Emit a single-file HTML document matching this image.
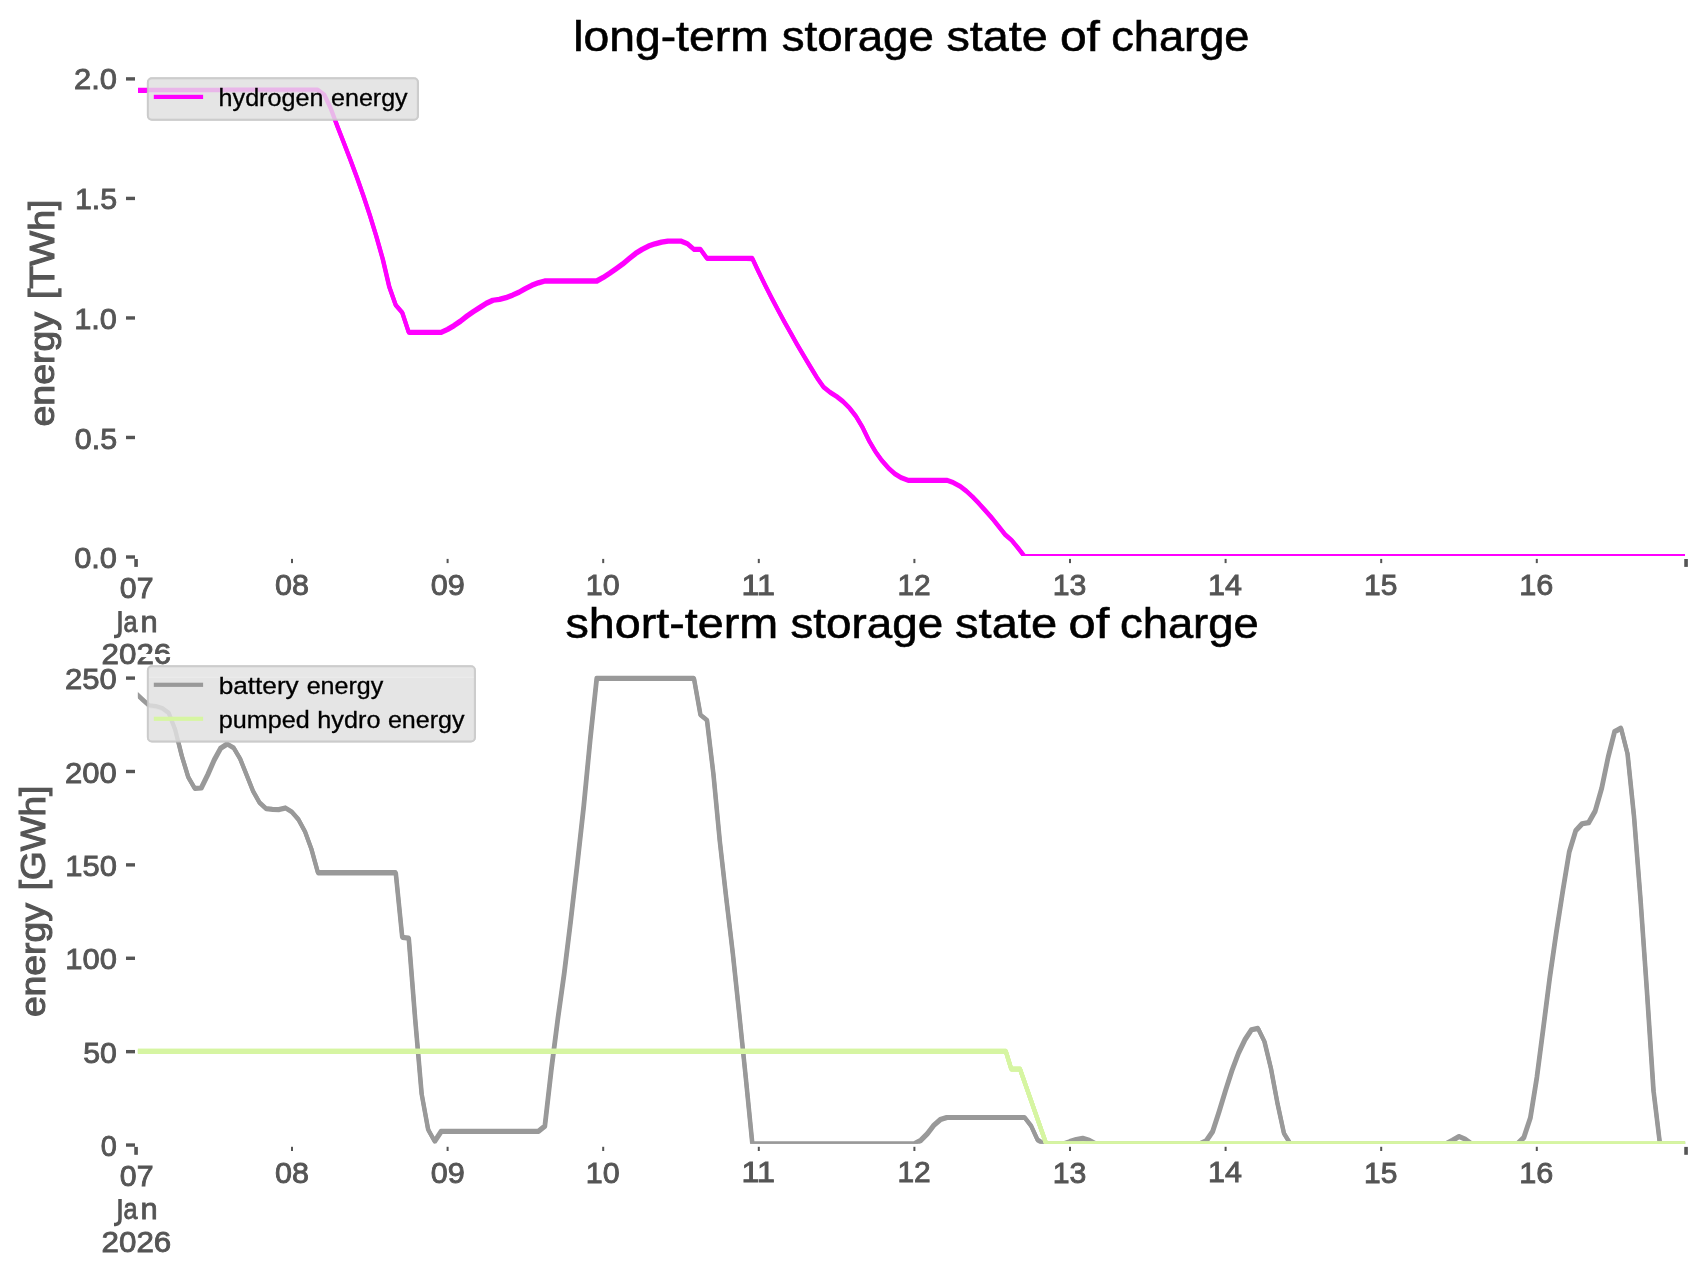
<!DOCTYPE html>
<html><head><meta charset="utf-8"><title>storage state of charge</title>
<style>html,body{margin:0;padding:0;background:#fff;overflow:hidden;}svg{display:block;will-change:transform;}text{font-family:"Liberation Sans",sans-serif;}</style></head><body>
<svg width="1706" height="1277" viewBox="0 0 1706 1277">
<rect width="1706" height="1277" fill="#ffffff"/>
<defs><clipPath id="c1"><rect x="137.9" y="60" width="1547.2" height="496.05"/></clipPath>
<clipPath id="c2"><rect x="137.9" y="650" width="1547.2" height="493.80"/></clipPath></defs>
<rect x="126" y="77.20" width="9" height="3.4" fill="#555555"/>
<rect x="126" y="196.73" width="9" height="3.4" fill="#555555"/>
<rect x="126" y="316.25" width="9" height="3.4" fill="#555555"/>
<rect x="126" y="435.78" width="9" height="3.4" fill="#555555"/>
<rect x="126" y="555.30" width="9" height="3.4" fill="#555555"/>
<rect x="126" y="676.40" width="9" height="3.4" fill="#555555"/>
<rect x="126" y="769.79" width="9" height="3.4" fill="#555555"/>
<rect x="126" y="863.18" width="9" height="3.4" fill="#555555"/>
<rect x="126" y="956.57" width="9" height="3.4" fill="#555555"/>
<rect x="126" y="1049.96" width="9" height="3.4" fill="#555555"/>
<rect x="126" y="1143.35" width="9" height="3.4" fill="#555555"/>
<rect x="134.25" y="559.00" width="3.6" height="7.9" fill="#555555"/>
<rect x="1684.25" y="559.00" width="3.6" height="7.9" fill="#555555"/>
<rect x="291.00" y="558.90" width="2.0" height="4.2" fill="#555555"/>
<rect x="446.60" y="558.90" width="2.0" height="4.2" fill="#555555"/>
<rect x="602.20" y="558.90" width="2.0" height="4.2" fill="#555555"/>
<rect x="757.80" y="558.90" width="2.0" height="4.2" fill="#555555"/>
<rect x="913.40" y="558.90" width="2.0" height="4.2" fill="#555555"/>
<rect x="1069.00" y="558.90" width="2.0" height="4.2" fill="#555555"/>
<rect x="1224.60" y="558.90" width="2.0" height="4.2" fill="#555555"/>
<rect x="1380.20" y="558.90" width="2.0" height="4.2" fill="#555555"/>
<rect x="1535.80" y="558.90" width="2.0" height="4.2" fill="#555555"/>
<rect x="134.25" y="1146.90" width="3.6" height="7.9" fill="#555555"/>
<rect x="1684.25" y="1146.90" width="3.6" height="7.9" fill="#555555"/>
<rect x="291.00" y="1146.80" width="2.0" height="4.2" fill="#555555"/>
<rect x="446.60" y="1146.80" width="2.0" height="4.2" fill="#555555"/>
<rect x="602.20" y="1146.80" width="2.0" height="4.2" fill="#555555"/>
<rect x="757.80" y="1146.80" width="2.0" height="4.2" fill="#555555"/>
<rect x="913.40" y="1146.80" width="2.0" height="4.2" fill="#555555"/>
<rect x="1069.00" y="1146.80" width="2.0" height="4.2" fill="#555555"/>
<rect x="1224.60" y="1146.80" width="2.0" height="4.2" fill="#555555"/>
<rect x="1380.20" y="1146.80" width="2.0" height="4.2" fill="#555555"/>
<rect x="1535.80" y="1146.80" width="2.0" height="4.2" fill="#555555"/>
<text transform="translate(74.05,89.16) scale(1.1121,1.0446)" font-size="27.78" fill="#555555" stroke="#555555" stroke-width="0.83">2.0</text>
<text transform="translate(74.88,209.49) scale(1.0936,1.0387)" font-size="27.78" fill="#555555" stroke="#555555" stroke-width="0.84">1.5</text>
<text transform="translate(74.23,329.01) scale(1.1074,1.0446)" font-size="27.78" fill="#555555" stroke="#555555" stroke-width="0.84">1.0</text>
<text transform="translate(74.85,448.54) scale(1.0945,1.0446)" font-size="27.78" fill="#555555" stroke="#555555" stroke-width="0.84">0.5</text>
<text transform="translate(74.21,568.06) scale(1.1079,1.0446)" font-size="27.78" fill="#555555" stroke="#555555" stroke-width="0.84">0.0</text>
<text transform="translate(65.06,689.16) scale(1.1180,1.0446)" font-size="27.78" fill="#555555" stroke="#555555" stroke-width="0.83">250</text>
<text transform="translate(65.06,782.55) scale(1.1180,1.0446)" font-size="27.78" fill="#555555" stroke="#555555" stroke-width="0.83">200</text>
<text transform="translate(65.23,875.94) scale(1.1142,1.0446)" font-size="27.78" fill="#555555" stroke="#555555" stroke-width="0.83">150</text>
<text transform="translate(65.23,969.33) scale(1.1142,1.0446)" font-size="27.78" fill="#555555" stroke="#555555" stroke-width="0.83">100</text>
<text transform="translate(83.26,1062.72) scale(1.0891,1.0446)" font-size="27.78" fill="#555555" stroke="#555555" stroke-width="0.84">50</text>
<text transform="translate(100.71,1156.11) scale(1.0415,1.0446)" font-size="27.78" fill="#555555" stroke="#555555" stroke-width="0.86">0</text>
<text transform="translate(275.10,594.66) scale(1.0983,1.0446)" font-size="27.78" fill="#555555" stroke="#555555" stroke-width="0.84">08</text>
<text transform="translate(430.69,594.66) scale(1.1031,1.0446)" font-size="27.78" fill="#555555" stroke="#555555" stroke-width="0.84">09</text>
<text transform="translate(585.70,594.66) scale(1.0968,1.0446)" font-size="27.78" fill="#555555" stroke="#555555" stroke-width="0.84">10</text>
<text transform="translate(741.53,594.55) scale(1.1645,1.0327)" font-size="27.78" fill="#555555" stroke="#555555" stroke-width="0.82">11</text>
<text transform="translate(897.45,594.55) scale(1.0752,1.0387)" font-size="27.78" fill="#555555" stroke="#555555" stroke-width="0.85">12</text>
<text transform="translate(1052.71,594.66) scale(1.0882,1.0446)" font-size="27.78" fill="#555555" stroke="#555555" stroke-width="0.84">13</text>
<text transform="translate(1207.98,594.55) scale(1.0960,1.0327)" font-size="27.78" fill="#555555" stroke="#555555" stroke-width="0.85">14</text>
<text transform="translate(1364.05,594.67) scale(1.0791,1.0387)" font-size="27.78" fill="#555555" stroke="#555555" stroke-width="0.85">15</text>
<text transform="translate(1519.29,594.66) scale(1.1018,1.0446)" font-size="27.78" fill="#555555" stroke="#555555" stroke-width="0.84">16</text>
<text transform="translate(119.86,598.46) scale(1.0903,1.0446)" font-size="27.78" fill="#555555" stroke="#555555" stroke-width="0.84">07</text>
<path d="M120.0,611.10 V631.20 Q120.0,636.50 115.6,636.50 H114.0" fill="none" stroke="#555555" stroke-width="3.5"/>
<text transform="translate(123.38,631.54) scale(0.9034,1.0369)" font-size="27.78" fill="#555555" stroke="#555555" stroke-width="0.82">a</text>
<text transform="translate(140.41,631.50) scale(1.1137,1.0342)" font-size="27.78" fill="#555555" stroke="#555555" stroke-width="0.74">n</text>
<text transform="translate(101.57,663.66) scale(1.1277,1.0446)" font-size="27.78" fill="#555555" stroke="#555555" stroke-width="0.83">2026</text>
<text transform="translate(275.10,1182.56) scale(1.0983,1.0446)" font-size="27.78" fill="#555555" stroke="#555555" stroke-width="0.84">08</text>
<text transform="translate(430.69,1182.56) scale(1.1031,1.0446)" font-size="27.78" fill="#555555" stroke="#555555" stroke-width="0.84">09</text>
<text transform="translate(585.70,1182.56) scale(1.0968,1.0446)" font-size="27.78" fill="#555555" stroke="#555555" stroke-width="0.84">10</text>
<text transform="translate(741.53,1182.45) scale(1.1645,1.0327)" font-size="27.78" fill="#555555" stroke="#555555" stroke-width="0.82">11</text>
<text transform="translate(897.45,1182.45) scale(1.0752,1.0387)" font-size="27.78" fill="#555555" stroke="#555555" stroke-width="0.85">12</text>
<text transform="translate(1052.71,1182.56) scale(1.0882,1.0446)" font-size="27.78" fill="#555555" stroke="#555555" stroke-width="0.84">13</text>
<text transform="translate(1207.98,1182.45) scale(1.0960,1.0327)" font-size="27.78" fill="#555555" stroke="#555555" stroke-width="0.85">14</text>
<text transform="translate(1364.05,1182.57) scale(1.0791,1.0387)" font-size="27.78" fill="#555555" stroke="#555555" stroke-width="0.85">15</text>
<text transform="translate(1519.29,1182.56) scale(1.1018,1.0446)" font-size="27.78" fill="#555555" stroke="#555555" stroke-width="0.84">16</text>
<text transform="translate(119.86,1186.36) scale(1.0903,1.0446)" font-size="27.78" fill="#555555" stroke="#555555" stroke-width="0.84">07</text>
<path d="M120.0,1199.00 V1219.10 Q120.0,1224.40 115.6,1224.40 H114.0" fill="none" stroke="#555555" stroke-width="3.5"/>
<text transform="translate(123.38,1219.44) scale(0.9034,1.0369)" font-size="27.78" fill="#555555" stroke="#555555" stroke-width="0.82">a</text>
<text transform="translate(140.41,1219.40) scale(1.1137,1.0342)" font-size="27.78" fill="#555555" stroke="#555555" stroke-width="0.74">n</text>
<text transform="translate(101.57,1251.56) scale(1.1277,1.0446)" font-size="27.78" fill="#555555" stroke="#555555" stroke-width="0.83">2026</text>
<rect x="137.7" y="654.0" width="1548.5" height="3.1" fill="#ffffff"/>
<text transform="translate(53.68,426.49) rotate(-90) scale(1.1231,1.0282)" font-size="33.33" fill="#555555" stroke="#555555" stroke-width="1.02">energy</text>
<text transform="translate(53.68,299.04) rotate(-90) scale(1.1189,1.0282)" font-size="33.33" fill="#555555" stroke="#555555" stroke-width="1.02">[TWh]</text>
<text transform="translate(44.78,1017.09) rotate(-90) scale(1.1180,1.0282)" font-size="33.33" fill="#555555" stroke="#555555" stroke-width="1.03">energy</text>
<text transform="translate(44.78,890.19) rotate(-90) scale(1.1070,1.0282)" font-size="33.33" fill="#555555" stroke="#555555" stroke-width="1.03">[GWh]</text>
<text transform="translate(573.14,50.59) scale(1.1580,1.0403)" font-size="40.00" fill="#000" stroke="#000" stroke-width="0.55">long-term</text>
<text transform="translate(781.74,50.59) scale(1.1398,1.0403)" font-size="40.00" fill="#000" stroke="#000" stroke-width="0.55">storage</text>
<text transform="translate(946.38,50.59) scale(1.1699,1.0403)" font-size="40.00" fill="#000" stroke="#000" stroke-width="0.54">state</text>
<text transform="translate(1059.91,50.59) scale(1.2008,1.0403)" font-size="40.00" fill="#000" stroke="#000" stroke-width="0.54">of</text>
<text transform="translate(1111.30,50.59) scale(1.1293,1.0403)" font-size="40.00" fill="#000" stroke="#000" stroke-width="0.55">charge</text>
<text transform="translate(565.46,638.39) scale(1.1672,1.0403)" font-size="40.00" fill="#000" stroke="#000" stroke-width="0.54">short-term</text>
<text transform="translate(790.43,638.39) scale(1.1444,1.0403)" font-size="40.00" fill="#000" stroke="#000" stroke-width="0.55">storage</text>
<text transform="translate(955.06,638.39) scale(1.1770,1.0403)" font-size="40.00" fill="#000" stroke="#000" stroke-width="0.54">state</text>
<text transform="translate(1068.57,638.39) scale(1.2197,1.0403)" font-size="40.00" fill="#000" stroke="#000" stroke-width="0.53">of</text>
<text transform="translate(1119.98,638.39) scale(1.1344,1.0403)" font-size="40.00" fill="#000" stroke="#000" stroke-width="0.55">charge</text>
<g fill="none" stroke-width="4.17" stroke-linejoin="round" stroke-linecap="butt">
<polyline clip-path="url(#c1)" stroke="#ff00ff" points="136.2,91.0 136.7,90.9 143.1,90.9 149.6,90.9 156.1,90.9 162.6,90.9 169.1,90.9 175.6,90.9 182.0,90.9 188.5,90.9 195.0,90.9 201.5,90.9 208.0,90.9 214.4,90.9 220.9,90.9 227.4,90.8 233.9,90.8 240.4,90.8 246.9,90.8 253.4,90.8 259.8,90.8 266.3,90.8 272.8,90.8 279.3,90.8 285.8,90.8 292.2,90.8 298.7,90.8 305.2,90.8 311.7,90.8 318.2,90.8 324.7,95.7 331.1,109.1 337.6,126.8 344.1,143.4 350.6,160.3 357.1,177.8 363.6,196.2 370.1,215.8 376.5,236.6 383.0,259.6 389.5,287.3 396.0,305.7 402.5,313.2 409.0,332.9 415.4,332.9 421.9,332.9 428.4,332.9 434.9,332.9 441.4,332.9 447.9,329.9 454.3,326.1 460.8,321.7 467.3,316.6 473.8,312.1 480.3,307.9 486.8,303.8 493.2,300.8 499.7,299.9 506.2,298.2 512.7,295.7 519.2,292.8 525.6,289.2 532.1,285.9 538.6,283.4 545.1,281.6 551.6,281.6 558.1,281.6 564.5,281.6 571.0,281.6 577.5,281.6 584.0,281.6 590.5,281.6 597.0,281.6 603.5,278.0 609.9,273.8 616.4,269.3 622.9,264.6 629.4,259.2 635.9,254.0 642.4,250.0 648.8,246.6 655.3,244.4 661.8,242.7 668.3,241.7 674.8,241.7 681.2,241.7 687.7,244.3 694.2,249.9 700.7,249.9 707.2,258.9 713.7,258.9 720.1,258.9 726.6,258.9 733.1,259.0 739.6,259.0 746.1,259.0 752.6,259.1 759.0,272.7 765.5,285.9 772.0,298.7 778.5,311.0 785.0,323.0 791.5,334.6 797.9,346.0 804.4,357.0 810.9,367.8 817.4,378.5 823.9,387.7 830.4,392.9 836.9,397.0 843.3,402.1 849.8,408.6 856.3,417.0 862.8,427.9 869.3,441.3 875.8,452.2 882.2,461.2 888.7,468.6 895.2,474.5 901.7,478.4 908.2,480.9 914.6,480.9 921.1,480.9 927.6,480.9 934.1,480.9 940.6,480.9 947.1,480.9 953.5,483.1 960.0,486.6 966.5,491.5 973.0,497.6 979.5,504.4 986.0,511.6 992.4,518.8 998.9,527.0 1005.4,535.1 1011.9,540.8 1018.4,548.7 1024.9,557.0 1031.4,557.0 1037.8,557.0 1044.3,557.0 1050.8,557.0 1057.3,557.0 1063.8,557.0 1070.2,557.0 1076.7,557.0 1083.2,557.0 1089.7,557.0 1096.2,557.0 1102.7,557.0 1109.2,557.0 1115.6,557.0 1122.1,557.0 1128.6,557.0 1135.1,557.0 1141.6,557.0 1148.0,557.0 1154.5,557.0 1161.0,557.0 1167.5,557.0 1174.0,557.0 1180.5,557.0 1187.0,557.0 1193.4,557.0 1199.9,557.0 1206.4,557.0 1212.9,557.0 1219.4,557.0 1225.9,557.0 1232.3,557.0 1238.8,557.0 1245.3,557.0 1251.8,557.0 1258.3,557.0 1264.8,557.0 1271.2,557.0 1277.7,557.0 1284.2,557.0 1290.7,557.0 1297.2,557.0 1303.7,557.0 1310.1,557.0 1316.6,557.0 1323.1,557.0 1329.6,557.0 1336.1,557.0 1342.6,557.0 1349.0,557.0 1355.5,557.0 1362.0,557.0 1368.5,557.0 1375.0,557.0 1381.5,557.0 1387.9,557.0 1394.4,557.0 1400.9,557.0 1407.4,557.0 1413.9,557.0 1420.4,557.0 1426.8,557.0 1433.3,557.0 1439.8,557.0 1446.3,557.0 1452.8,557.0 1459.2,557.0 1465.7,557.0 1472.2,557.0 1478.7,557.0 1485.2,557.0 1491.7,557.0 1498.2,557.0 1504.6,557.0 1511.1,557.0 1517.6,557.0 1524.1,557.0 1530.6,557.0 1537.1,557.0 1543.5,557.0 1550.0,557.0 1556.5,557.0 1563.0,557.0 1569.5,557.0 1576.0,557.0 1582.4,557.0 1588.9,557.0 1595.4,557.0 1601.9,557.0 1608.4,557.0 1614.9,557.0 1621.3,557.0 1627.8,557.0 1634.3,557.0 1640.8,557.0 1647.3,557.0 1653.8,557.0 1660.2,557.0 1666.7,557.0 1673.2,557.0 1679.7,557.0 1686.2,557.0"/>
<polyline clip-path="url(#c2)" stroke="#999999" points="136.2,694.0 136.7,694.4 143.1,700.4 149.6,706.3 156.1,707.2 162.6,709.1 169.1,713.8 175.6,730.6 182.0,756.3 188.5,777.7 195.0,788.9 201.5,788.5 208.0,775.3 214.4,760.7 220.9,748.8 227.4,744.5 233.9,748.4 240.4,759.4 246.9,775.6 253.4,791.9 259.8,803.2 266.3,809.1 272.8,810.0 279.3,810.1 285.8,808.4 292.2,812.6 298.7,820.0 305.2,832.0 311.7,849.7 318.2,873.3 324.7,873.3 331.1,873.3 337.6,873.3 344.1,873.3 350.6,873.3 357.1,873.3 363.6,873.3 370.1,873.3 376.5,873.3 383.0,873.3 389.5,873.3 396.0,873.3 402.5,937.9 409.0,938.6 415.4,1019.4 421.9,1094.5 428.4,1130.2 434.9,1141.8 441.4,1132.0 447.9,1132.0 454.3,1132.0 460.8,1132.0 467.3,1132.0 473.8,1132.0 480.3,1132.0 486.8,1132.0 493.2,1132.0 499.7,1132.0 506.2,1132.0 512.7,1132.0 519.2,1132.0 525.6,1132.0 532.1,1132.0 538.6,1132.0 545.1,1126.6 551.6,1069.9 558.1,1019.3 564.5,973.6 571.0,920.9 577.5,865.0 584.0,806.7 590.5,739.7 597.0,678.9 603.5,678.9 609.9,678.9 616.4,678.9 622.9,678.9 629.4,678.9 635.9,678.9 642.4,678.9 648.8,678.9 655.3,678.9 661.8,678.9 668.3,678.9 674.8,678.9 681.2,678.9 687.7,678.9 694.2,678.9 700.7,715.4 707.2,720.6 713.7,774.9 720.1,842.2 726.6,899.5 733.1,954.3 739.6,1015.5 746.1,1079.0 752.6,1144.5 759.0,1144.5 765.5,1144.5 772.0,1144.5 778.5,1144.5 785.0,1144.5 791.5,1144.5 797.9,1144.5 804.4,1144.5 810.9,1144.5 817.4,1144.5 823.9,1144.5 830.4,1144.5 836.9,1144.5 843.3,1144.5 849.8,1144.5 856.3,1144.5 862.8,1144.5 869.3,1144.5 875.8,1144.5 882.2,1144.5 888.7,1144.5 895.2,1144.5 901.7,1144.5 908.2,1144.5 914.6,1144.5 921.1,1140.9 927.6,1134.3 934.1,1125.8 940.6,1120.1 947.1,1118.0 953.5,1118.0 960.0,1118.0 966.5,1118.0 973.0,1118.0 979.5,1118.0 986.0,1118.0 992.4,1118.0 998.9,1118.0 1005.4,1118.0 1011.9,1118.0 1018.4,1118.0 1024.9,1118.0 1031.4,1126.5 1037.8,1140.4 1044.3,1144.5 1050.8,1144.5 1057.3,1144.5 1063.8,1144.5 1070.2,1142.2 1076.7,1140.1 1083.2,1138.9 1089.7,1140.8 1096.2,1144.5 1102.7,1144.5 1109.2,1144.5 1115.6,1144.5 1122.1,1144.5 1128.6,1144.5 1135.1,1144.5 1141.6,1144.5 1148.0,1144.5 1154.5,1144.5 1161.0,1144.5 1167.5,1144.5 1174.0,1144.5 1180.5,1144.5 1187.0,1144.5 1193.4,1144.5 1199.9,1144.5 1206.4,1141.6 1212.9,1132.0 1219.4,1112.0 1225.9,1090.7 1232.3,1070.8 1238.8,1053.5 1245.3,1040.1 1251.8,1030.2 1258.3,1029.0 1264.8,1042.2 1271.2,1069.0 1277.7,1103.8 1284.2,1133.9 1290.7,1144.5 1297.2,1144.5 1303.7,1144.5 1310.1,1144.5 1316.6,1144.5 1323.1,1144.5 1329.6,1144.5 1336.1,1144.5 1342.6,1144.5 1349.0,1144.5 1355.5,1144.5 1362.0,1144.5 1368.5,1144.5 1375.0,1144.5 1381.5,1144.5 1387.9,1144.5 1394.4,1144.5 1400.9,1144.5 1407.4,1144.5 1413.9,1144.5 1420.4,1144.5 1426.8,1144.5 1433.3,1144.5 1439.8,1144.5 1446.3,1144.5 1452.8,1140.9 1459.2,1137.0 1465.7,1139.8 1472.2,1144.5 1478.7,1144.5 1485.2,1144.5 1491.7,1144.5 1498.2,1144.5 1504.6,1144.5 1511.1,1144.5 1517.6,1144.5 1524.1,1138.0 1530.6,1118.4 1537.1,1078.1 1543.5,1029.1 1550.0,978.3 1556.5,933.4 1563.0,891.8 1569.5,852.5 1576.0,831.2 1582.4,824.3 1588.9,823.1 1595.4,811.6 1601.9,789.0 1608.4,757.7 1614.9,732.1 1621.3,728.8 1627.8,754.4 1634.3,817.3 1640.8,900.4 1647.3,993.5 1653.8,1091.2 1660.2,1144.5 1666.7,1144.5 1673.2,1144.5 1679.7,1144.5 1686.2,1144.5"/>
<polyline clip-path="url(#c2)" stroke="#d6f5a2" points="136.2,1052.0 1006.1,1052.0 1011.5,1069.6 1020.2,1069.6 1046.5,1144.5 1686.2,1144.5"/>
</g>
<rect x="147.9" y="78.3" width="270.0" height="41.5" rx="4" ry="4" fill="#e3e3e3" fill-opacity="0.8" stroke="#c8c8c8" stroke-opacity="0.8" stroke-width="2.0"/>
<rect x="147.9" y="666.3" width="327.0" height="75.2" rx="4" ry="4" fill="#e3e3e3" fill-opacity="0.8" stroke="#c8c8c8" stroke-opacity="0.8" stroke-width="2.0"/>
<g fill="none" stroke-width="4.17" stroke-linejoin="round" stroke-linecap="butt">
<polyline clip-path="url(#c1)" stroke="#ff00ff" points="135.8,89.9 136.2,89.8 142.6,89.8 149.1,89.8 155.6,89.8 162.1,89.8 168.6,89.8 175.1,89.8 181.5,89.8 188.0,89.8 194.5,89.8 201.0,89.8 207.5,89.8 213.9,89.8 220.4,89.8 226.9,89.7 233.4,89.7 239.9,89.7 246.4,89.7 252.9,89.7 259.3,89.7 265.8,89.7 272.3,89.7 278.8,89.7 285.3,89.7 291.8,89.7 298.2,89.7 304.7,89.7 311.2,89.7 317.7,89.7 324.2,94.6 330.6,108.0 337.1,125.7 343.6,142.3 350.1,159.2 356.6,176.7 363.1,195.1 369.6,214.7 376.0,235.5 382.5,258.5 389.0,286.2 395.5,304.6 402.0,312.1 408.5,331.8 414.9,331.8 421.4,331.8 427.9,331.8 434.4,331.8 440.9,331.8 447.4,328.8 453.8,325.0 460.3,320.6 466.8,315.5 473.3,311.0 479.8,306.8 486.2,302.7 492.7,299.7 499.2,298.8 505.7,297.1 512.2,294.6 518.7,291.7 525.1,288.1 531.6,284.8 538.1,282.3 544.6,280.4 551.1,280.4 557.6,280.4 564.0,280.4 570.5,280.4 577.0,280.4 583.5,280.4 590.0,280.4 596.5,280.4 603.0,276.9 609.4,272.7 615.9,268.2 622.4,263.5 628.9,258.1 635.4,252.9 641.9,248.9 648.3,245.5 654.8,243.3 661.3,241.6 667.8,240.5 674.3,240.5 680.8,240.5 687.2,243.2 693.7,248.8 700.2,248.8 706.7,257.8 713.2,257.8 719.6,257.8 726.1,257.8 732.6,257.9 739.1,257.9 745.6,257.9 752.1,257.9 758.5,271.6 765.0,284.8 771.5,297.6 778.0,309.9 784.5,321.9 791.0,333.5 797.4,344.9 803.9,355.9 810.4,366.7 816.9,377.4 823.4,386.6 829.9,391.8 836.4,395.9 842.8,401.0 849.3,407.5 855.8,415.9 862.3,426.8 868.8,440.2 875.2,451.1 881.7,460.1 888.2,467.5 894.7,473.4 901.2,477.3 907.7,479.8 914.1,479.8 920.6,479.8 927.1,479.8 933.6,479.8 940.1,479.8 946.6,479.8 953.0,482.0 959.5,485.5 966.0,490.4 972.5,496.5 979.0,503.3 985.5,510.5 991.9,517.7 998.4,525.9 1004.9,534.0 1011.4,539.7 1017.9,547.6 1024.4,556.0 1030.9,556.0 1037.3,556.0 1043.8,556.0 1050.3,556.0 1056.8,556.0 1063.3,556.0 1069.8,556.0 1076.2,556.0 1082.7,556.0 1089.2,556.0 1095.7,556.0 1102.2,556.0 1108.7,556.0 1115.1,556.0 1121.6,556.0 1128.1,556.0 1134.6,556.0 1141.1,556.0 1147.5,556.0 1154.0,556.0 1160.5,556.0 1167.0,556.0 1173.5,556.0 1180.0,556.0 1186.5,556.0 1192.9,556.0 1199.4,556.0 1205.9,556.0 1212.4,556.0 1218.9,556.0 1225.4,556.0 1231.8,556.0 1238.3,556.0 1244.8,556.0 1251.3,556.0 1257.8,556.0 1264.2,556.0 1270.7,556.0 1277.2,556.0 1283.7,556.0 1290.2,556.0 1296.7,556.0 1303.2,556.0 1309.6,556.0 1316.1,556.0 1322.6,556.0 1329.1,556.0 1335.6,556.0 1342.1,556.0 1348.5,556.0 1355.0,556.0 1361.5,556.0 1368.0,556.0 1374.5,556.0 1381.0,556.0 1387.4,556.0 1393.9,556.0 1400.4,556.0 1406.9,556.0 1413.4,556.0 1419.9,556.0 1426.3,556.0 1432.8,556.0 1439.3,556.0 1445.8,556.0 1452.3,556.0 1458.8,556.0 1465.2,556.0 1471.7,556.0 1478.2,556.0 1484.7,556.0 1491.2,556.0 1497.7,556.0 1504.1,556.0 1510.6,556.0 1517.1,556.0 1523.6,556.0 1530.1,556.0 1536.6,556.0 1543.0,556.0 1549.5,556.0 1556.0,556.0 1562.5,556.0 1569.0,556.0 1575.5,556.0 1581.9,556.0 1588.4,556.0 1594.9,556.0 1601.4,556.0 1607.9,556.0 1614.4,556.0 1620.8,556.0 1627.3,556.0 1633.8,556.0 1640.3,556.0 1646.8,556.0 1653.2,556.0 1659.7,556.0 1666.2,556.0 1672.7,556.0 1679.2,556.0 1685.8,556.0"/>
<polyline clip-path="url(#c2)" stroke="#999999" points="135.8,693.0 136.2,693.3 142.6,699.3 149.1,705.2 155.6,706.1 162.1,708.0 168.6,712.7 175.1,729.5 181.5,755.2 188.0,776.6 194.5,787.9 201.0,787.5 207.5,774.2 213.9,759.6 220.4,747.7 226.9,743.5 233.4,747.3 239.9,758.3 246.4,774.5 252.9,790.8 259.3,802.1 265.8,808.1 272.3,808.9 278.8,809.0 285.3,807.4 291.8,811.5 298.2,818.9 304.7,830.9 311.2,848.6 317.7,872.2 324.2,872.2 330.6,872.2 337.1,872.2 343.6,872.2 350.1,872.2 356.6,872.2 363.1,872.2 369.6,872.2 376.0,872.2 382.5,872.2 389.0,872.2 395.5,872.2 402.0,936.9 408.5,937.6 414.9,1018.3 421.4,1093.4 427.9,1129.1 434.4,1140.8 440.9,1130.9 447.4,1130.9 453.8,1130.9 460.3,1130.9 466.8,1130.9 473.3,1130.9 479.8,1130.9 486.2,1130.9 492.7,1130.9 499.2,1130.9 505.7,1130.9 512.2,1130.9 518.7,1130.9 525.1,1130.9 531.6,1130.9 538.1,1130.9 544.6,1125.5 551.1,1068.8 557.6,1018.2 564.0,972.5 570.5,919.8 577.0,863.9 583.5,805.6 590.0,738.6 596.5,677.9 603.0,677.9 609.4,677.9 615.9,677.9 622.4,677.9 628.9,677.9 635.4,677.9 641.9,677.9 648.3,677.9 654.8,677.9 661.3,677.9 667.8,677.9 674.3,677.9 680.8,677.9 687.2,677.9 693.7,677.9 700.2,714.4 706.7,719.6 713.2,773.8 719.6,841.1 726.1,898.4 732.6,953.2 739.1,1014.4 745.6,1077.9 752.1,1143.4 758.5,1143.4 765.0,1143.4 771.5,1143.4 778.0,1143.4 784.5,1143.4 791.0,1143.4 797.4,1143.4 803.9,1143.4 810.4,1143.4 816.9,1143.4 823.4,1143.4 829.9,1143.4 836.4,1143.4 842.8,1143.4 849.3,1143.4 855.8,1143.4 862.3,1143.4 868.8,1143.4 875.2,1143.4 881.7,1143.4 888.2,1143.4 894.7,1143.4 901.2,1143.4 907.7,1143.4 914.1,1143.4 920.6,1139.8 927.1,1133.2 933.6,1124.7 940.1,1119.0 946.6,1117.0 953.0,1117.0 959.5,1117.0 966.0,1117.0 972.5,1117.0 979.0,1117.0 985.5,1117.0 991.9,1117.0 998.4,1117.0 1004.9,1117.0 1011.4,1117.0 1017.9,1117.0 1024.4,1117.0 1030.9,1125.4 1037.3,1139.3 1043.8,1143.4 1050.3,1143.4 1056.8,1143.4 1063.3,1143.4 1069.8,1141.1 1076.2,1139.0 1082.7,1137.8 1089.2,1139.7 1095.7,1143.4 1102.2,1143.4 1108.7,1143.4 1115.1,1143.4 1121.6,1143.4 1128.1,1143.4 1134.6,1143.4 1141.1,1143.4 1147.5,1143.4 1154.0,1143.4 1160.5,1143.4 1167.0,1143.4 1173.5,1143.4 1180.0,1143.4 1186.5,1143.4 1192.9,1143.4 1199.4,1143.4 1205.9,1140.5 1212.4,1130.9 1218.9,1110.9 1225.4,1089.6 1231.8,1069.7 1238.3,1052.4 1244.8,1039.0 1251.3,1029.2 1257.8,1027.9 1264.2,1041.2 1270.7,1067.9 1277.2,1102.7 1283.7,1132.8 1290.2,1143.4 1296.7,1143.4 1303.2,1143.4 1309.6,1143.4 1316.1,1143.4 1322.6,1143.4 1329.1,1143.4 1335.6,1143.4 1342.1,1143.4 1348.5,1143.4 1355.0,1143.4 1361.5,1143.4 1368.0,1143.4 1374.5,1143.4 1381.0,1143.4 1387.4,1143.4 1393.9,1143.4 1400.4,1143.4 1406.9,1143.4 1413.4,1143.4 1419.9,1143.4 1426.3,1143.4 1432.8,1143.4 1439.3,1143.4 1445.8,1143.4 1452.3,1139.8 1458.8,1136.0 1465.2,1138.7 1471.7,1143.4 1478.2,1143.4 1484.7,1143.4 1491.2,1143.4 1497.7,1143.4 1504.1,1143.4 1510.6,1143.4 1517.1,1143.4 1523.6,1136.9 1530.1,1117.3 1536.6,1077.0 1543.0,1028.0 1549.5,977.2 1556.0,932.3 1562.5,890.7 1569.0,851.4 1575.5,830.1 1581.9,823.2 1588.4,822.1 1594.9,810.5 1601.4,787.9 1607.9,756.6 1614.4,731.1 1620.8,727.7 1627.3,753.3 1633.8,816.2 1640.3,899.3 1646.8,992.4 1653.2,1090.1 1659.7,1143.4 1666.2,1143.4 1672.7,1143.4 1679.2,1143.4 1685.8,1143.4"/>
<polyline clip-path="url(#c2)" stroke="#d6f5a2" points="135.8,1050.9 1005.6,1050.9 1011.0,1068.5 1019.8,1068.5 1046.0,1143.4 1685.8,1143.4"/>
</g>
<rect x="147.9" y="78.3" width="270.0" height="41.5" rx="4" ry="4" fill="#e3e3e3" fill-opacity="0.8" stroke="#c8c8c8" stroke-opacity="0.8" stroke-width="2.0"/>
<rect x="147.9" y="666.3" width="327.0" height="75.2" rx="4" ry="4" fill="#e3e3e3" fill-opacity="0.8" stroke="#c8c8c8" stroke-opacity="0.8" stroke-width="2.0"/>
<g fill="none" stroke-width="4.17" stroke-linejoin="round" stroke-linecap="butt" stroke="#d6f5a2" clip-path="url(#c2)">
<polyline points="136.2,1052.0 1006.1,1052.0 1011.5,1069.6 1020.2,1069.6 1046.5,1144.5 1686.2,1144.5"/>
<polyline points="135.8,1050.9 1005.6,1050.9 1011.0,1068.5 1019.8,1068.5 1046.0,1143.4 1685.8,1143.4"/>
</g>
<rect x="148.9" y="667.3" width="325.0" height="10.1" fill="#ffffff" fill-opacity="0.10"/>
<rect x="148.9" y="676.8" width="325.0" height="1.2" fill="#ffffff" fill-opacity="0.22"/>
<rect x="153.8" y="94.80" width="49.3" height="4.2" fill="#ff00ff"/>
<text transform="translate(218.55,105.83) scale(1.1332,1.0361)" font-size="22.22" fill="#000" stroke="#000" stroke-width="0.28">hydrogen</text>
<text transform="translate(331.02,105.83) scale(1.1281,1.0361)" font-size="22.22" fill="#000" stroke="#000" stroke-width="0.28">energy</text>
<rect x="153.8" y="682.70" width="49.3" height="4.2" fill="#999999"/>
<text transform="translate(218.63,694.33) scale(1.1797,1.0361)" font-size="22.22" fill="#000" stroke="#000" stroke-width="0.27">battery</text>
<text transform="translate(306.68,694.33) scale(1.1281,1.0361)" font-size="22.22" fill="#000" stroke="#000" stroke-width="0.28">energy</text>
<rect x="153.8" y="716.70" width="49.3" height="4.2" fill="#d6f5a2"/>
<text transform="translate(218.69,727.83) scale(1.1333,1.0361)" font-size="22.22" fill="#000" stroke="#000" stroke-width="0.28">pumped</text>
<text transform="translate(317.32,727.83) scale(1.1357,1.0361)" font-size="22.22" fill="#000" stroke="#000" stroke-width="0.28">hydro</text>
<text transform="translate(387.93,727.83) scale(1.1281,1.0361)" font-size="22.22" fill="#000" stroke="#000" stroke-width="0.28">energy</text>
</svg></body></html>
